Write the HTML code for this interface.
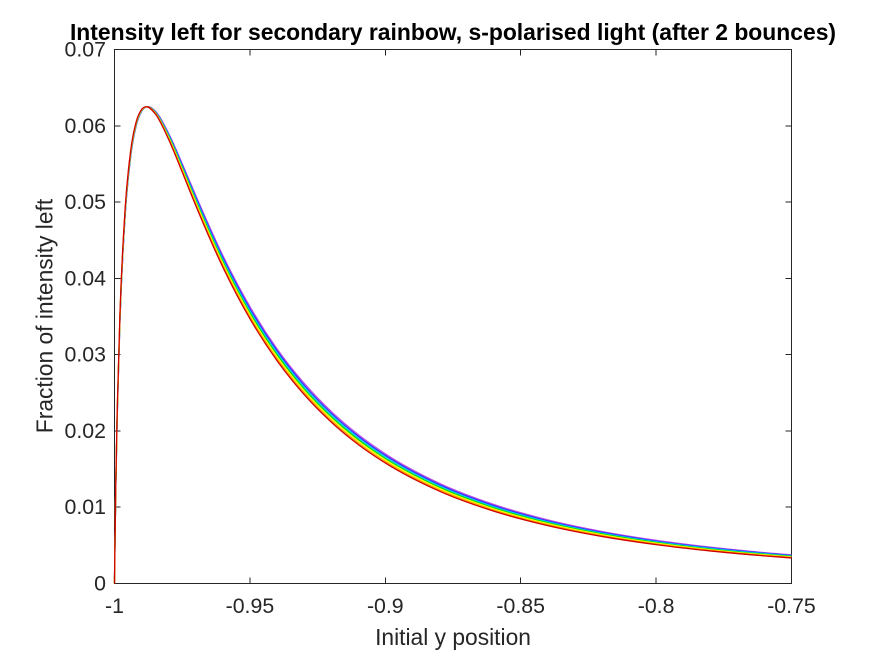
<!DOCTYPE html>
<html>
<head>
<meta charset="utf-8">
<title>Intensity left for secondary rainbow</title>
<style>
html,body{margin:0;padding:0;background:#fff;}
svg{display:block;}
text{font-family:"Liberation Sans",Arial,sans-serif;fill:#262626;}
</style>
</head>
<body>
<svg id="chart" xmlns="http://www.w3.org/2000/svg" width="875" height="656" viewBox="0 0 875 656">
<rect x="0" y="0" width="875" height="656" fill="#ffffff"/>
<text x="453" y="40" text-anchor="middle" font-size="22.9" font-weight="bold" fill="#000" style="fill:#000">Intensity left for secondary rainbow, s-polarised light (after 2 bounces)</text>
<text x="453" y="645" text-anchor="middle" font-size="22.8">Initial y position</text>
<text transform="translate(52.5,316) rotate(-90)" text-anchor="middle" font-size="22.8">Fraction of intensity left</text>
<g id="axes-layer"></g>
<g id="series-layer"></g>
</svg>
<script>
const xPositions = [-1,-0.9999,-0.9995,-0.999,-0.998,-0.996,-0.994,-0.992,-0.99,-0.988,-0.985,-0.98,-0.975,-0.97,-0.96,-0.95,-0.94,-0.93,-0.92,-0.91,-0.9,-0.88,-0.86,-0.84,-0.82,-0.8,-0.78,-0.76,-0.75];
const violetValues = [0,0.00328,0.01298,0.02183,0.03419,0.0485,0.056,0.05998,0.06188,0.06249,0.06194,0.05899,0.05504,0.05087,0.043,0.0363,0.03078,0.02627,0.02257,0.01953,0.017,0.01313,0.01037,0.00834,0.00682,0.00566,0.00476,0.00405,0.00375];
const blueValues = [0,0.0033,0.01307,0.02196,0.03436,0.04867,0.05614,0.06007,0.06192,0.06249,0.06188,0.05886,0.05486,0.05065,0.04274,0.03603,0.03052,0.02602,0.02234,0.01931,0.0168,0.01296,0.01022,0.00821,0.00671,0.00556,0.00468,0.00398,0.00368];
const cyanValues = [0,0.00333,0.01316,0.02209,0.03453,0.04884,0.05627,0.06016,0.06196,0.06249,0.06182,0.05873,0.05467,0.05043,0.04249,0.03577,0.03026,0.02577,0.0221,0.01909,0.0166,0.01279,0.01007,0.00809,0.0066,0.00547,0.0046,0.00391,0.00362];
const greenValues = [0,0.00335,0.01325,0.02223,0.0347,0.04901,0.05641,0.06024,0.06201,0.06249,0.06177,0.0586,0.05449,0.05021,0.04223,0.0355,0.03,0.02552,0.02187,0.01887,0.0164,0.01262,0.00992,0.00796,0.0065,0.00538,0.00451,0.00383,0.00355];
const yellowValues = [0,0.00338,0.01334,0.02236,0.03487,0.04918,0.05654,0.06033,0.06205,0.06249,0.06171,0.05847,0.05431,0.04999,0.04198,0.03524,0.02974,0.02528,0.02164,0.01866,0.0162,0.01245,0.00978,0.00784,0.00639,0.00529,0.00443,0.00376,0.00348];
const orangeValues = [0,0.0034,0.01343,0.02249,0.03504,0.04935,0.05668,0.06042,0.0621,0.06249,0.06166,0.05834,0.05412,0.04977,0.04172,0.03497,0.02948,0.02503,0.0214,0.01844,0.016,0.01227,0.00963,0.00771,0.00628,0.00519,0.00435,0.00369,0.00342];
const redValues = [0,0.00343,0.01351,0.02262,0.03521,0.04952,0.05681,0.06051,0.06214,0.06249,0.0616,0.05821,0.05394,0.04955,0.04147,0.03471,0.02922,0.02478,0.02117,0.01822,0.0158,0.0121,0.00949,0.00759,0.00617,0.0051,0.00427,0.00362,0.00335];
const xTicks = [-1,-0.95,-0.9,-0.85,-0.8,-0.75];
const xTickLabels = ["-1","-0.95","-0.9","-0.85","-0.8","-0.75"];
const yTicks = [0,0.01,0.02,0.03,0.04,0.05,0.06,0.07];
const yTickLabels = ["0","0.01","0.02","0.03","0.04","0.05","0.06","0.07"];

const NS = 'http://www.w3.org/2000/svg';
const AX = {left:114.5, right:791.5, top:49.5, bottom:583.5, xMin:-1, xMax:-0.75, yMin:0, yMax:0.07};
function xScale(v){ return AX.left + (v - AX.xMin) / (AX.xMax - AX.xMin) * (AX.right - AX.left); }
function yScale(v){ return AX.bottom - (v - AX.yMin) / (AX.yMax - AX.yMin) * (AX.bottom - AX.top); }

function curvePath(xs, ys){
  const px = xs.map(xScale), py = ys.map(yScale), n = px.length;
  const h = [], s = [], m = [];
  for (let i = 0; i < n - 1; i++){ h.push(px[i+1]-px[i]); s.push((py[i+1]-py[i])/h[i]); }
  m.push(s[0]);
  for (let i = 1; i < n - 1; i++){
    m.push((h[i]*s[i-1] + h[i-1]*s[i]) / (h[i-1] + h[i]));
  }
  m.push(s[n-2]);
  let d = 'M' + px[0].toFixed(2) + ' ' + py[0].toFixed(2);
  for (let i = 0; i < n - 1; i++){
    const c = h[i] / 3;
    d += 'C' + (px[i]+c).toFixed(2) + ' ' + (py[i]+m[i]*c).toFixed(2) + ' ' +
         (px[i+1]-c).toFixed(2) + ' ' + (py[i+1]-m[i+1]*c).toFixed(2) + ' ' +
         px[i+1].toFixed(2) + ' ' + py[i+1].toFixed(2);
  }
  return d;
}

const seriesLayer = document.getElementById('series-layer');
function addSeries(name, values, color){
  const el = document.createElementNS(NS, 'path');
  el.setAttribute('d', curvePath(xPositions, values));
  el.setAttribute('fill', 'none');
  el.setAttribute('stroke', color);
  el.setAttribute('stroke-width', '1.3');
  
  
  seriesLayer.appendChild(el);
}
addSeries('series-violet', violetValues, '#c050e8');
addSeries('series-blue', blueValues, '#3030ff');
addSeries('series-cyan', cyanValues, '#00c8ff');
addSeries('series-green', greenValues, '#00e000');
addSeries('series-yellow', yellowValues, '#ffff00');
addSeries('series-orange', orangeValues, '#ffa000');
addSeries('series-red', redValues, '#d00000');

const axesLayer = document.getElementById('axes-layer');
function line(x1, y1, x2, y2){
  const el = document.createElementNS(NS, 'line');
  el.setAttribute('x1', x1); el.setAttribute('y1', y1);
  el.setAttribute('x2', x2); el.setAttribute('y2', y2);
  el.setAttribute('stroke', '#262626');
  el.setAttribute('stroke-width', '1');
  el.setAttribute('shape-rendering', 'crispEdges');
  axesLayer.appendChild(el);
  return el;
}
function label(x, y, str, anchor){
  const el = document.createElementNS(NS, 'text');
  el.setAttribute('x', x); el.setAttribute('y', y);
  el.setAttribute('text-anchor', anchor);
  el.setAttribute('font-size', '21.3');
  el.textContent = str;
  axesLayer.appendChild(el);
  return el;
}
const frame = document.createElementNS(NS, 'rect');
frame.setAttribute('x', AX.left);
frame.setAttribute('y', AX.top);
frame.setAttribute('width', AX.right - AX.left);
frame.setAttribute('height', AX.bottom - AX.top);
frame.setAttribute('fill', 'none');
frame.setAttribute('stroke', '#262626');
frame.setAttribute('stroke-width', '1');
frame.setAttribute('shape-rendering', 'crispEdges');


axesLayer.appendChild(frame);

xTicks.forEach(function(v, i){
  const px = xScale(v);
  const b = line(px, AX.bottom, px, AX.bottom - 6);
  
  
  const t = line(px, AX.top, px, AX.top + 6);
  
  
  const l = label(px, 613, xTickLabels[i], 'middle');
  
  
});
yTicks.forEach(function(v, i){
  const py = yScale(v);
  const a = line(AX.left, py, AX.left + 6, py);
  
  
  const c = line(AX.right, py, AX.right - 6, py);
  
  
  const l = label(106, py + 7, yTickLabels[i], 'end');
  
  
});
</script>
</body>
</html>
